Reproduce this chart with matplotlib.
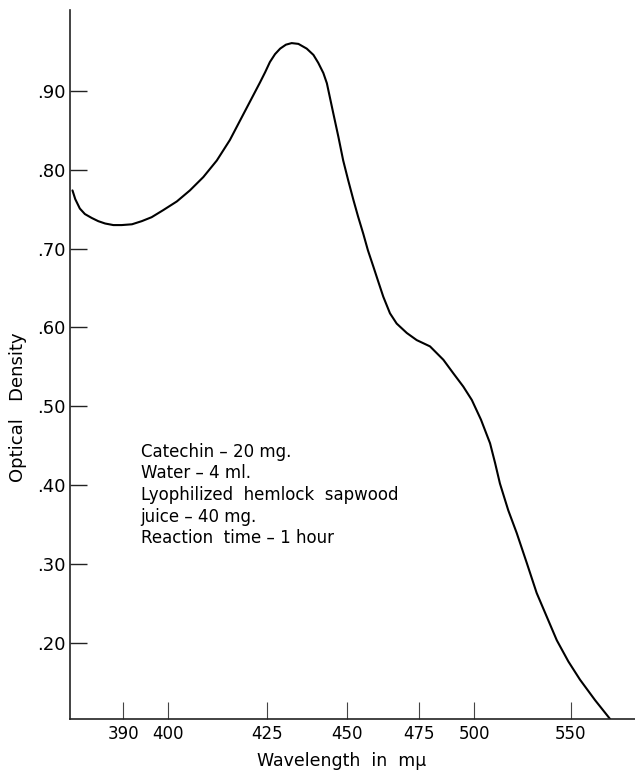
import numpy as np
import matplotlib.pyplot as plt

# absorption curve
wavelength = [379.0, 379.6, 380.6, 381.7, 383.2, 384.6, 386.1, 387.9, 389.7, 392.0,
              394.2, 396.4, 399.0, 402.3, 405.6, 409.0, 412.4, 415.7, 418.3, 420.8,
              423.3, 424.6, 426.0, 427.6, 429.2, 431.0, 432.8, 434.9, 437.5, 439.6,
              441.1, 442.7, 443.8, 444.8, 445.8, 447.4, 448.9, 450.5, 452.3, 453.9,
              455.7, 457.3, 459.2, 460.8, 462.6, 464.9, 467.2, 470.7, 474.1, 479.9,
              486.0, 490.5, 495.1, 499.0, 503.6, 508.3, 510.9, 513.4, 517.7, 522.1,
              527.3, 532.4, 537.6, 542.8, 548.8, 554.8, 562.6, 570.4]
optical_density = [0.774, 0.763, 0.751, 0.744, 0.739, 0.735, 0.732, 0.730, 0.730, 0.731,
                   0.735, 0.740, 0.749, 0.760, 0.774, 0.791, 0.812, 0.838, 0.863, 0.887,
                   0.911, 0.924, 0.937, 0.947, 0.954, 0.959, 0.961, 0.960, 0.954, 0.946,
                   0.936, 0.923, 0.910, 0.891, 0.872, 0.842, 0.812, 0.787, 0.762, 0.741,
                   0.719, 0.698, 0.677, 0.659, 0.639, 0.618, 0.605, 0.593, 0.584, 0.576,
                   0.559, 0.542, 0.525, 0.508, 0.483, 0.453, 0.428, 0.402, 0.368, 0.339,
                   0.301, 0.263, 0.233, 0.203, 0.176, 0.153, 0.127, 0.103]

# prism instrument: the wavelength scale is not linear
scale_nm = [378.4, 390, 400, 425, 450, 475, 500, 550, 583.3]
scale_pos = [0.0, 53.3, 98.0, 197.0, 277.0, 349.6, 404.3, 501.0, 565.3]

x_ticks = [390, 400, 425, 450, 475, 500, 550]
y_ticks = [0.20, 0.30, 0.40, 0.50, 0.60, 0.70, 0.80, 0.90]
y_ticklabels = ['.20', '.30', '.40', '.50', '.60', '.70', '.80', '.90']

conditions = ['Catechin \u2013 20 mg.',
              'Water \u2013 4 ml.',
              'Lyophilized  hemlock  sapwood',
              'juice \u2013 40 mg.',
              'Reaction  time \u2013 1 hour']

plt.rcParams['font.family'] = ['DejaVu Sans']


def forward(x):
    return np.interp(x, scale_nm, scale_pos)


def inverse(p):
    return np.interp(p, scale_pos, scale_nm)


fig = plt.figure(figsize=(6.35, 7.7), dpi=100)
ax = fig.add_axes([0.1098, 0.0662, 0.8902, 0.9208])

ax.plot(wavelength, optical_density, color='black', linewidth=1.5,
        solid_capstyle='round', solid_joinstyle='round')

ax.set_xscale('function', functions=(forward, inverse))
ax.set_xlim(378.4, 583.3)
ax.set_ylim(0.103, 1.003)

ax.set_xticks(x_ticks)
ax.set_xticklabels([str(t) for t in x_ticks])
ax.set_yticks(y_ticks)
ax.set_yticklabels(y_ticklabels)
ax.minorticks_off()

ax.tick_params(axis='x', direction='in', length=12, width=0.8, color='#444',
               labelsize=12, pad=4)
ax.tick_params(axis='y', direction='in', length=12, width=1.0, color='#222',
               labelsize=13, pad=3)

ax.spines['top'].set_visible(False)
ax.spines['right'].set_visible(False)
for side in ['left', 'bottom']:
    ax.spines[side].set_color('#222')
    ax.spines[side].set_linewidth(1.2)

ax.set_xlabel('Wavelength  in  m\u03bc', fontsize=12.5)
ax.xaxis.set_label_coords(0.4817, -0.046)
ax.set_ylabel('Optical   Density', fontsize=13)
ax.yaxis.set_label_coords(-0.076, 0.44)

# one text per line so the line pitch stays fixed
for i, line in enumerate(conditions):
    ax.text(0.1256, 0.370 - i * 0.0306, line, transform=ax.transAxes,
            fontsize=12, va='baseline', ha='left')

fig.savefig('out.png', dpi=100)
